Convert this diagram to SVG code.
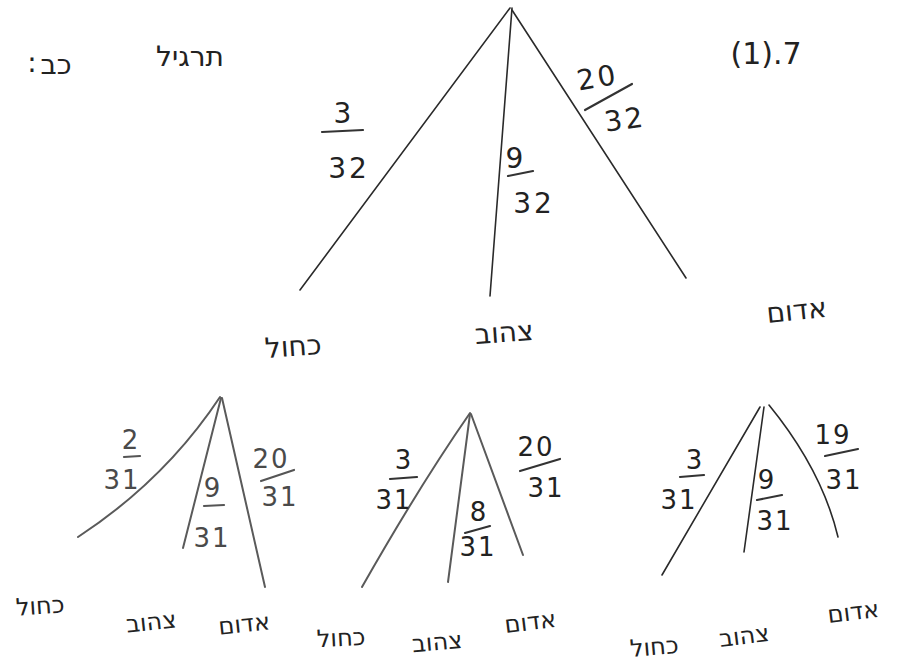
<svg xmlns="http://www.w3.org/2000/svg" width="897" height="665" viewBox="0 0 897 665">
<style>
.bg{fill:#ffffff}
.e{fill:none;stroke:#2a2a2a;stroke-width:1.6;stroke-linecap:round}
.e2{fill:none;stroke:#5a5a5a;stroke-width:2;stroke-linecap:round}
.bar{fill:none;stroke:#333;stroke-width:2.2;stroke-linecap:round}
.bar2{fill:none;stroke:#555;stroke-width:2.2;stroke-linecap:round}
.t{font-family:"DejaVu Sans","Liberation Sans",sans-serif;fill:#222;text-anchor:middle}
.n1{font-size:28px;letter-spacing:3px}
.n2{font-size:26px;letter-spacing:2px}
.g2{fill:#4a4a4a}
.h1{font-size:28px}
.h2{font-size:24px}
</style>
<rect class="bg" x="0" y="0" width="897" height="665"/>

<g id="title">
<text class="t h1" x="190" y="66">תרגיל</text>
<text class="t h1" x="56" y="74">כב</text>
<text class="t h1" x="32" y="72">:</text>
</g>
<g id="question-number">
<text class="t h1" x="766" y="64" style="font-size:30px">(1).7</text>
</g>

<g id="connectors">
<!-- top tree -->
<path class="e" d="M510 8 L300 290"/>
<path class="e" d="M512 8 L490 296"/>
<path class="e" d="M512 10 L686 278"/>
<!-- bottom tree 1 -->
<path class="e2" d="M220 397 Q165 480 78 537"/>
<path class="e2" d="M221 398 L183 548"/>
<path class="e2" d="M222 398 L265 587"/>
<!-- bottom tree 2 -->
<path class="e2" d="M470 413 Q420 485 362 587"/>
<path class="e2" d="M470 414 L448 582"/>
<path class="e2" d="M471 414 L523 555"/>
<!-- bottom tree 3 -->
<path class="e" d="M760 407 L662 575"/>
<path class="e" d="M764 407 L744 552"/>
<path class="e" d="M769 405 Q822 470 838 537"/>
</g>

<g id="edge-labels-top">
<g id="p-blue-32">
<text class="t n1" x="344" y="123">3</text>
<path class="bar" d="M322 132 L363 130"/>
<text class="t n1" x="349" y="178">32</text>
</g>
<g id="p-yellow-32">
<text class="t n1" x="516" y="168">9</text>
<path class="bar" d="M508 176 L533 171"/>
<text class="t n1" x="534" y="213">32</text>
</g>
<g id="p-red-32">
<text class="t n1" x="598" y="87" transform="rotate(-10 598 80)">20</text>
<path class="bar" d="M585 110 L632 84"/>
<text class="t n1" x="625" y="129" transform="rotate(-8 625 120)">32</text>
</g>
</g>

<g id="node-blue">
<text class="t h1" x="293" y="356" transform="rotate(-4 293 345)">כחול</text>
</g>
<g id="node-yellow">
<text class="t h1" x="504" y="342" transform="rotate(-4 504 330)">צהוב</text>
</g>
<g id="node-red">
<text class="t h1" x="796" y="320" transform="rotate(-6 796 305)">אדום</text>
</g>

<g id="edge-labels-bottom">
<g id="t1-blue">
<text class="t n2 g2" x="131" y="449">2</text>
<path class="bar2" d="M124 457 L140 456"/>
<text class="t n2 g2" x="122" y="489">31</text>
</g>
<g id="t1-yellow">
<text class="t n2 g2" x="213" y="497">9</text>
<path class="bar2" d="M204 506 L224 505"/>
<text class="t n2 g2" x="212" y="547">31</text>
</g>
<g id="t1-red">
<text class="t n2 g2" x="271" y="468">20</text>
<path class="bar2" d="M261 481 L294 470"/>
<text class="t n2 g2" x="280" y="506">31</text>
</g>
<g id="t2-blue">
<text class="t n2" x="404" y="469">3</text>
<path class="bar" d="M390 479 L417 477"/>
<text class="t n2" x="394" y="509">31</text>
</g>
<g id="t2-yellow">
<text class="t n2" x="479" y="521">8</text>
<path class="bar" d="M465 533 L490 526"/>
<text class="t n2" x="478" y="556">31</text>
</g>
<g id="t2-red">
<text class="t n2" x="536" y="456">20</text>
<path class="bar" d="M520 471 L560 459"/>
<text class="t n2" x="546" y="497">31</text>
</g>
<g id="t3-blue">
<text class="t n2" x="695" y="469">3</text>
<path class="bar" d="M680 477 L704 475"/>
<text class="t n2" x="679" y="509">31</text>
</g>
<g id="t3-yellow">
<text class="t n2" x="767" y="489">9</text>
<path class="bar" d="M757 500 L782 495"/>
<text class="t n2" x="775" y="530">31</text>
</g>
<g id="t3-red">
<text class="t n2" x="833" y="444">19</text>
<path class="bar" d="M825 456 L858 449"/>
<text class="t n2" x="844" y="489">31</text>
</g>
</g>

<g id="leaf-1-blue"><text class="t h2" x="40" y="614" transform="rotate(-4 40 605)">כחול</text></g>
<g id="leaf-1-yellow"><text class="t h2" x="151" y="630" transform="rotate(-6 151 620)">צהוב</text></g>
<g id="leaf-1-red"><text class="t h2" x="244" y="632" transform="rotate(-6 244 622)">אדום</text></g>
<g id="leaf-2-blue"><text class="t h2" x="341" y="646" transform="rotate(-3 341 637)">כחול</text></g>
<g id="leaf-2-yellow"><text class="t h2" x="437" y="650" transform="rotate(-5 437 640)">צהוב</text></g>
<g id="leaf-2-red"><text class="t h2" x="530" y="630" transform="rotate(-7 530 620)">אדום</text></g>
<g id="leaf-3-blue"><text class="t h2" x="654" y="655" transform="rotate(-5 654 645)">כחול</text></g>
<g id="leaf-3-yellow"><text class="t h2" x="744" y="644" transform="rotate(-7 744 634)">צהוב</text></g>
<g id="leaf-3-red"><text class="t h2" x="853" y="620" transform="rotate(-7 853 610)">אדום</text></g>
</svg>
